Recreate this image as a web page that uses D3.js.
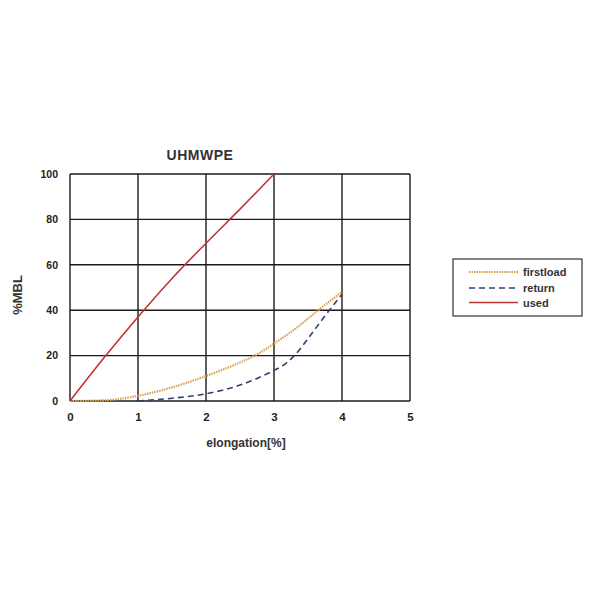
<!DOCTYPE html>
<html>
<head>
<meta charset="utf-8">
<script src="https://cdn.jsdelivr.net/npm/d3@7"></script>
<style>
  body { margin: 0; background: #fff; }
  text { font-family: "Liberation Sans", Arial, sans-serif; }
</style>
</head>
<body>
<svg id="chart"></svg>
<script>
// values
let xTicks = [0, 1, 2, 3, 4, 5];
let yTicks = [0, 20, 40, 60, 80, 100];
let seriesNames = ["firstload", "return", "used"];
let firstloadX = [0, 0.5, 1, 1.5, 2, 2.5, 2.75, 3, 3.3, 3.65, 4];
let firstloadY = [0, 0.3, 2.3, 6, 11, 17, 20.5, 25.3, 31.5, 40, 48];
let returnX = [1, 1.5, 2, 2.5, 3, 3.15, 3.3, 3.5, 3.75, 4];
let returnY = [0, 1.2, 3.2, 7, 13.5, 16, 20, 27.5, 37.5, 47];
let usedX = [0, 0.5, 1, 1.5, 2, 2.5, 3];
let usedY = [0, 19, 37, 54, 69.5, 84.5, 100];

let width = 600;
let height = 600;
let plotLeft = 70, plotRight = 410, plotTop = 174, plotBottom = 401;

let svg = d3.select("#chart")
    .attr("width", width)
    .attr("height", height);

let x = d3.scaleLinear().domain([0, 5]).range([plotLeft, plotRight]);
let y = d3.scaleLinear().domain([0, 100]).range([plotBottom, plotTop]);

// grid
let grid = svg.append("g");
grid.selectAll("line.v")
    .data(xTicks)
    .enter().append("line")
        .attr("x1", d => x(d)).attr("x2", d => x(d))
        .attr("y1", plotTop).attr("y2", plotBottom)
        .attr("stroke", "#1a1a1a")
        .attr("stroke-width", 1.4);
grid.selectAll("line.h")
    .data(yTicks)
    .enter().append("line")
        .attr("x1", plotLeft).attr("x2", plotRight)
        .attr("y1", d => y(d)).attr("y2", d => y(d))
        .attr("stroke", "#1a1a1a")
        .attr("stroke-width", 1.4);

// axes (labels only, lines come from grid)
let xAxis = svg.append("g")
    .attr("transform", "translate(0," + plotBottom + ")")
    .call(d3.axisBottom(x).tickValues(xTicks).tickFormat(d3.format("d")).tickSize(0).tickPadding(12));
xAxis.select(".domain").remove();
xAxis.selectAll("text")
    .attr("font-size", 11.5)
    .attr("font-weight", "bold")
    .attr("fill", "#222")
    .attr("font-family", "Liberation Sans, Arial, sans-serif");

let yAxis = svg.append("g")
    .attr("transform", "translate(" + plotLeft + ",0)")
    .call(d3.axisLeft(y).tickValues(yTicks).tickFormat(d3.format("d")).tickSize(0).tickPadding(12));
yAxis.select(".domain").remove();
yAxis.selectAll("text")
    .attr("font-size", 10.5)
    .attr("font-weight", "bold")
    .attr("fill", "#222")
    .attr("font-family", "Liberation Sans, Arial, sans-serif");

// series
let line = d3.line()
    .x(d => x(d[0]))
    .y(d => y(d[1]))
    .curve(d3.curveMonotoneX);

let series = [
    { name: "firstload", xs: firstloadX, ys: firstloadY, color: "#dba24e", dash: "1.5,1", width: 2.2 },
    { name: "return", xs: returnX, ys: returnY, color: "#34406e", dash: "6,4", width: 1.6 },
    { name: "used", xs: usedX, ys: usedY, color: "#c03434", dash: null, width: 1.6 }
];

svg.append("g").selectAll("path")
    .data(series)
    .enter().append("path")
        .attr("fill", "none")
        .attr("stroke", d => d.color)
        .attr("stroke-width", d => d.width)
        .attr("stroke-dasharray", d => d.dash)
        .attr("d", d => line(d.xs.map((v, i) => [v, d.ys[i]])));

// title
svg.append("text")
    .attr("x", 200).attr("y", 160)
    .attr("text-anchor", "middle")
    .attr("font-size", 14)
    .attr("font-weight", "bold")
    .attr("fill", "#333")
    .attr("letter-spacing", 0.5)
    .text("UHMWPE");

// axis titles
svg.append("text")
    .attr("x", 246).attr("y", 447)
    .attr("text-anchor", "middle")
    .attr("font-size", 12)
    .attr("font-weight", "bold")
    .attr("fill", "#333")
    .text("elongation[%]");

svg.append("text")
    .attr("transform", "translate(22,295) rotate(-90)")
    .attr("text-anchor", "middle")
    .attr("font-size", 13)
    .attr("font-weight", "bold")
    .attr("fill", "#333")
    .text("%MBL");

// legend
let legend = svg.append("g");
legend.append("rect")
    .attr("x", 453).attr("y", 259)
    .attr("width", 129).attr("height", 57)
    .attr("fill", "#fff")
    .attr("stroke", "#333")
    .attr("stroke-width", 1.2);

let legendItems = legend.selectAll("g.item")
    .data(series)
    .enter().append("g")
        .attr("transform", (d, i) => "translate(0," + [272, 288, 302.5][i] + ")");
legendItems.append("line")
    .attr("x1", 469).attr("x2", 518)
    .attr("stroke", d => d.color)
    .attr("stroke-width", d => d.width)
    .attr("stroke-dasharray", d => d.dash);
legendItems.append("text")
    .attr("x", 523).attr("y", 4)
    .attr("font-size", 11)
    .attr("font-weight", "bold")
    .attr("fill", "#333")
    .text(d => d.name);
</script>
</body>
</html>
